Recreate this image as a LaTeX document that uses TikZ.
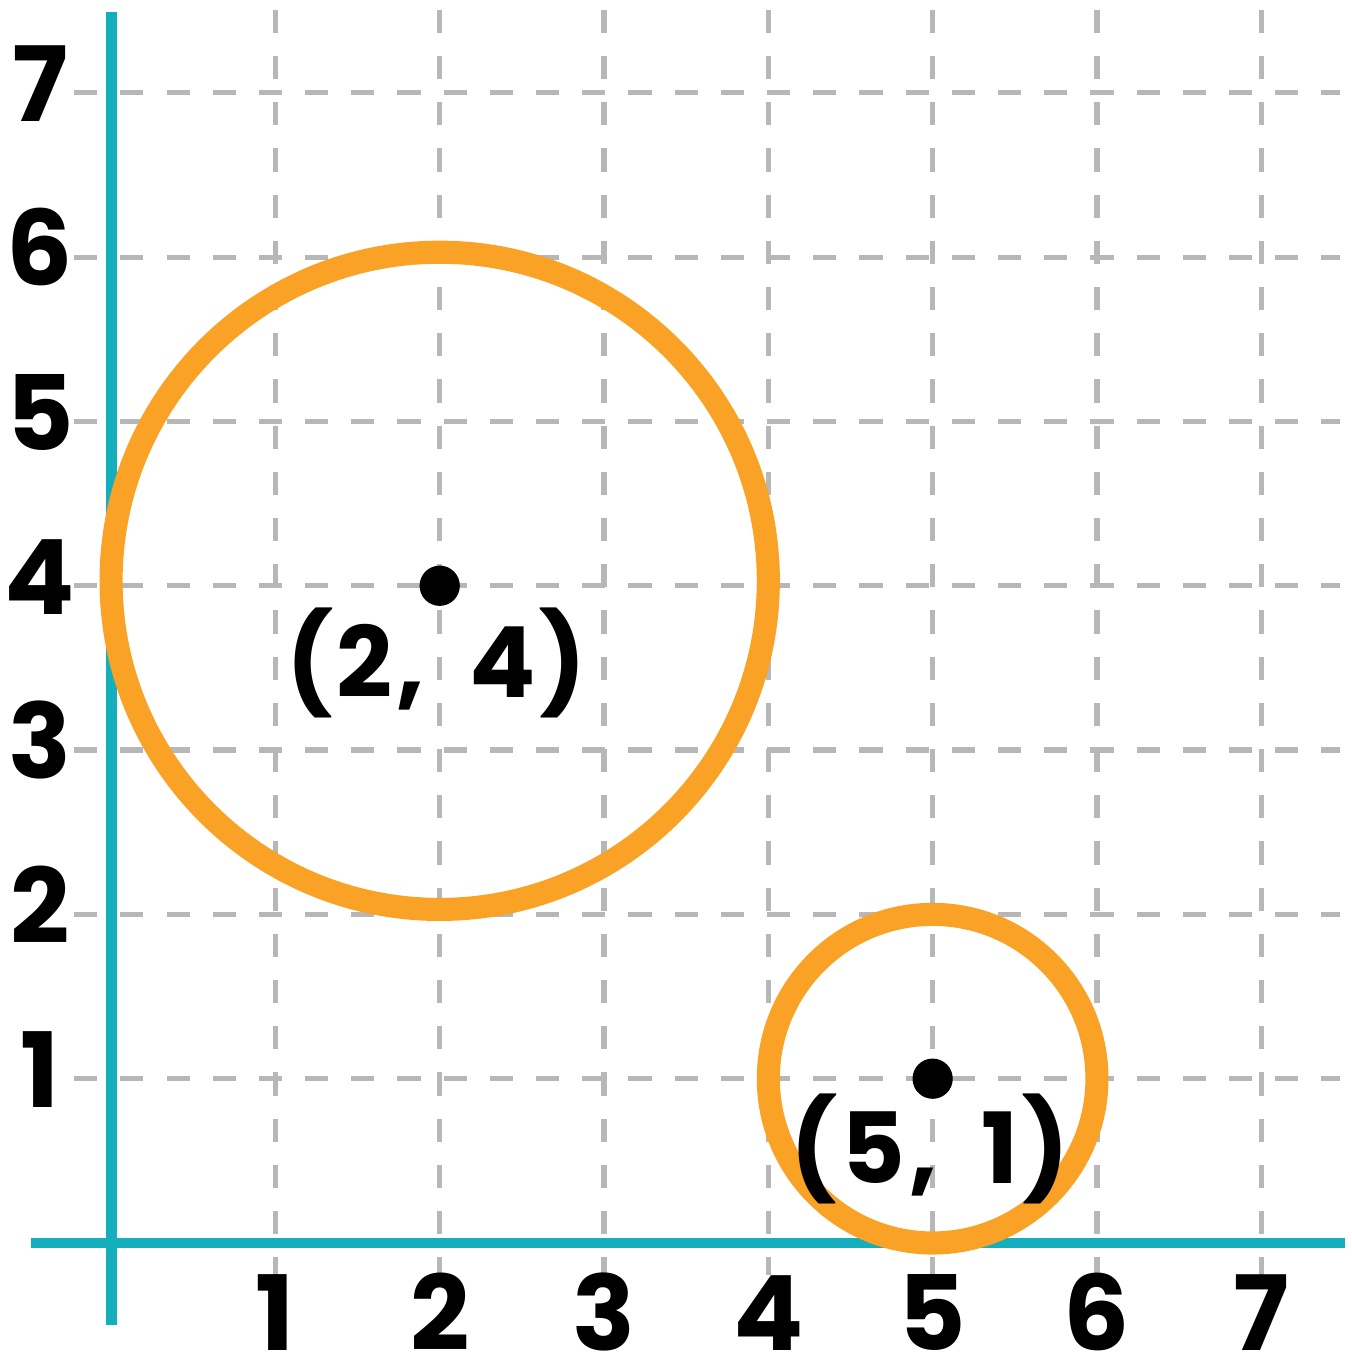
\documentclass[tikz,border=0pt]{standalone}
\usepackage{fontspec}
\setmainfont{Poppins}
\usepackage{tikz}
\usetikzlibrary{positioning,calc}
\definecolor{axteal}{RGB}{20,174,188}
\definecolor{ringorange}{RGB}{249,162,38}
\definecolor{gridgray}{RGB}{183,183,183}
\tikzset{
  axisline/.style = {draw=axteal, line width=1.9pt},
  gridline/.style = {draw=gridgray, line width=0.9pt, dash pattern=on 4pt off 4pt},
  ring/.style     = {draw=ringorange, line width=4pt},
  ptdot/.style    = {circle, fill=black, inner sep=0pt, minimum size=0.245cm},
  ticklabel/.style= {font=\fontsize{18}{18}\selectfont\bfseries, anchor=base, inner sep=0pt},
  ptlabel/.style  = {font=\fontsize{17}{17}\selectfont\bfseries\addfontfeature{LetterSpace=4}, anchor=base, inner sep=0pt},
}
\begin{document}
\begin{tikzpicture}
  \useasboundingbox (-0.676,-0.706) rectangle (7.547,7.565);
  % grid
  \foreach \i in {1,...,7} {
    \draw[gridline] (-0.225,\i) -- (7.48,\i);
    \draw[gridline] (\i,7.505) -- (\i,-0.195);
  }
  % axes
  \coordinate (o) at (0,0);
  \draw[axisline] (-0.487,0) -- (7.51,0);
  \draw[axisline] (0,7.49) -- (0,-0.5);
  % tick labels
  \foreach \i in {1,...,7} {
    \node[ticklabel] (xl\i) at (\i,-0.655) {\i};
    \node[ticklabel] (yl\i) at (-0.432,\i-0.175) {\i};
  }
  % points and circles
  \node[ptdot] (pa) at (2,4) {};
  \node[ptdot] (pb) at (5,1) {};
  \draw[ring] (2,4.03) circle (2);
  \draw[ring] (pb) circle (1);
  \node[ptlabel] (la) at (1.98,3.318) {(2,\hspace{0.2em} 4)};
  \node[ptlabel] (lb) at (4.985,0.361) {(5,\hspace{0.2em} 1)};
\end{tikzpicture}
\end{document}
